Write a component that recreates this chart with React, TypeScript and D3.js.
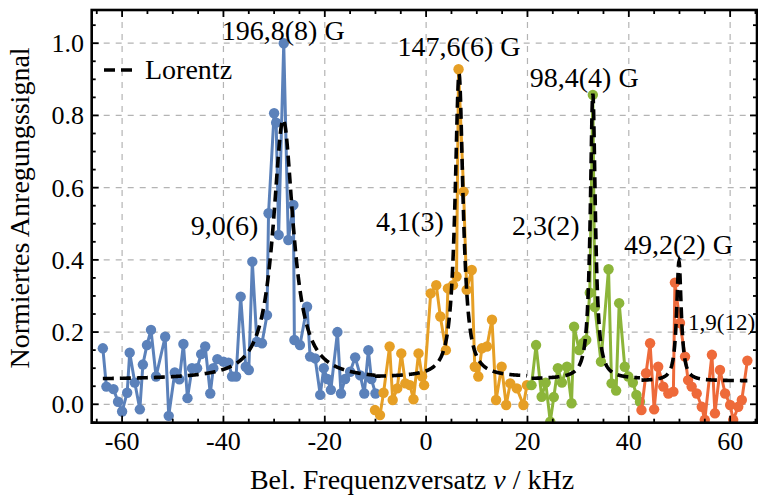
import React from "react";
import * as d3 from "d3";

// ---------- data ----------
const blueX = [-63.8, -63.1, -61.7, -60.8, -60.0, -59.0, -58.5, -57.5, -56.5, -55.9, -55.1, -54.3, -53.3, -51.5, -50.8, -49.6, -48.7, -47.9, -47.1, -46.2, -45.2, -44.4, -43.6, -42.6, -42.0, -41.2, -40.0, -39.0, -38.3, -37.5, -36.6, -35.6, -35.0, -34.3, -33.4, -32.4, -31.4, -31.1, -30.0, -29.6, -29.1, -28.1, -27.2, -26.2, -26.0, -24.9, -23.5, -22.9, -21.9, -20.9, -20.2, -19.5, -18.8, -17.5, -16.8, -16.0, -15.0, -14.0, -13.0, -12.2, -11.4, -10.8, -10.0];
const blueY = [0.155, 0.049, 0.042, 0.007, -0.02, 0.032, 0.143, 0.06, -0.014, 0.11, 0.164, 0.206, 0.077, 0.187, -0.032, 0.088, 0.069, 0.167, 0.017, 0.1, 0.1, 0.139, 0.16, 0.03, 0.1, 0.125, 0.118, 0.115, 0.077, 0.077, 0.298, 0.104, 0.095, 0.395, 0.173, 0.169, 0.247, 0.529, 0.806, 0.78, 0.469, 1.0, 0.455, 0.552, 0.178, 0.164, 0.27, 0.132, 0.127, 0.026, 0.1, 0.07, 0.04, 0.2, 0.03, 0.07, 0.09, 0.13, 0.08, 0.03, 0.15, 0.07, 0.03];

const orangeX = [-10.1, -9.1, -8.4, -7.2, -6.6, -5.7, -4.9, -4.1, -3.2, -2.5, -1.5, -0.8, -0.4, 0.9, 2.0, 2.8, 3.9, 4.3, 5.3, 6.0, 6.4, 7.4, 8.0, 9.0, 9.6, 10.3, 11.0, 12.0, 13.0, 13.8, 14.9, 15.8, 16.6, 17.9, 19.2, 19.9];
const orangeY = [-0.016, -0.03, 0.032, 0.16, 0.012, 0.044, 0.141, 0.058, 0.053, 0.014, 0.141, 0.077, 0.053, 0.307, 0.33, 0.243, 0.15, 0.321, 0.33, 0.354, 0.928, 0.589, 0.317, 0.372, 0.104, 0.077, 0.155, 0.16, 0.234, 0.012, 0.104, -0.002, 0.058, 0.044, -0.002, 0.053];

const greenX = [20.8, 21.7, 22.8, 23.6, 24.5, 25.2, 26.0, 26.8, 27.8, 28.7, 29.2, 30.2, 31.0, 31.6, 32.3, 32.9, 33.3, 34.5, 36.0, 36.6, 37.5, 38.1, 39.2, 39.9, 40.8, 41.5, 42.2];
const greenY = [0.053, 0.164, 0.021, 0.06, -0.048, 0.02, 0.1, 0.06, 0.104, 0.003, 0.215, 0.15, 0.17, 0.178, 0.309, 0.857, 0.269, 0.118, 0.374, 0.058, 0.038, 0.28, 0.104, 0.077, 0.06, 0.026, 0.007];

const redX = [42.5, 43.4, 44.2, 45.0, 45.8, 46.8, 47.8, 48.8, 49.1, 50.1, 51.1, 51.7, 52.4, 53.4, 54.4, 55.0, 56.4, 57.0, 58.0, 59.0, 60.0, 60.6, 61.6, 62.3, 63.4];
const redY = [-0.016, 0.086, 0.169, -0.014, 0.104, 0.049, 0.03, 0.035, 0.337, 0.225, 0.132, 0.067, 0.049, 0.03, -0.007, -0.043, 0.137, -0.025, 0.095, 0.03, -0.002, -0.043, -0.007, 0.012, 0.121];

// Lorentz fit parameters: centre, amplitude, half width, offset
const fitCenter = [-28.2, 6.5, 32.9, 49.9];
const fitAmp = [0.72, 0.84, 0.79, 0.33];
const fitHalfWidth = [2.4, 0.95, 0.6, 0.55];
const fitOffset = [0.068, 0.075, 0.07, 0.065];

const seriesColors = ["#5b81ba", "#e69f25", "#8cb53a", "#ee6a3a"];

const fieldLabels = ["196,8(8) G", "147,6(6) G", "98,4(4) G", "49,2(2) G"];
const widthLabels = ["9,0(6)", "4,1(3)", "2,3(2)", "1,9(12)"];

const xTicks = [-60, -40, -20, 0, 20, 40, 60];
const yTicks = [0.0, 0.2, 0.4, 0.6, 0.8, 1.0];

// ---------- layout ----------
const W = 758, H = 498;
const L = 91.7, R = 757, T = 10, B = 422.7;
const FONT = "Liberation Serif";

export default function App() {
  const x = d3.scaleLinear().domain([-66, 65.3]).range([L, R]);
  const y = d3.scaleLinear().domain([-0.051, 1.092]).range([B, T]);

  const series = [
    { xs: blueX, ys: blueY },
    { xs: orangeX, ys: orangeY },
    { xs: greenX, ys: greenY },
    { xs: redX, ys: redY },
  ];

  const line = d3.line<[number, number]>().x((d) => x(d[0])).y((d) => y(d[1]));

  const minorX = d3.range(-65, 66, 5).filter((v) => v % 20 !== 0);
  const minorY = d3.range(-0.05, 1.1, 0.05).filter((v) => Math.abs(Math.round(v * 100) % 20) !== 0).map((v) => +v.toFixed(2));

  const fieldPos: [number, number][] = [[-28.2, 1.01], [6.5, 0.965], [31.2, 0.88], [49.8, 0.415]];
  const widthPos: [number, number][] = [[-39.8, 0.47], [-3.2, 0.48], [23.6, 0.47], [58.3, 0.205]];

  const ts = (size: number): React.CSSProperties => ({ fontFamily: FONT, fontSize: size });

  return (
    <svg width={W} height={H} style={{ position: "absolute", left: 0, top: 0, background: "#fff" }}>
      <rect x={0} y={0} width={W} height={H} fill="#fff" />
      <defs>
        <clipPath id="plotclip">
          <rect x={L} y={T} width={R - L} height={B - T} />
        </clipPath>
      </defs>
      <g stroke="#b4b4b4" strokeWidth={1.2} strokeDasharray="6,6">
        {xTicks.map((t) => (
          <line key={"gx" + t} x1={x(t)} x2={x(t)} y1={T} y2={B} />
        ))}
        {yTicks.map((t) => (
          <line key={"gy" + t} x1={L} x2={R} y1={y(t)} y2={y(t)} />
        ))}
      </g>
      <g clipPath="url(#plotclip)">
        {series.map((s, i) => {
          const pts = s.xs.map((v, j) => [v, s.ys[j]] as [number, number]);
          return (
            <g key={"s" + i}>
              <path d={line(pts) || ""} fill="none" stroke={seriesColors[i]} strokeWidth={3} strokeLinejoin="round" />
              {pts.map((p, j) => (
                <circle key={j} cx={x(p[0])} cy={y(p[1])} r={5.2} fill={seriesColors[i]} />
              ))}
            </g>
          );
        })}
        {series.map((s, i) => {
          const x0 = d3.min(s.xs) as number;
          const x1 = d3.max(s.xs) as number;
          const g = fitHalfWidth[i];
          const pts = d3.range(x0, x1 + 0.001, 0.05).map((v) => [
            v,
            fitOffset[i] + (fitAmp[i] * g * g) / ((v - fitCenter[i]) ** 2 + g * g),
          ] as [number, number]);
          return (
            <path key={"f" + i} d={line(pts) || ""} fill="none" stroke="#000" strokeWidth={3.6} strokeDasharray="11,6" />
          );
        })}
      </g>
      {fieldLabels.map((t, i) => (
        <text key={"fl" + i} x={x(fieldPos[i][0])} y={y(fieldPos[i][1])} textAnchor="middle" style={ts(28)}>
          {t}
        </text>
      ))}
      {widthLabels.map((t, i) => (
        <text key={"wl" + i} x={x(widthPos[i][0])} y={y(widthPos[i][1])} textAnchor="middle" style={ts(i === 3 ? 23 : 28)}>
          {t}
        </text>
      ))}
      <line x1={104} x2={138} y1={70} y2={70} stroke="#000" strokeWidth={3.6} strokeDasharray="11,6" />
      <text x={145} y={79} style={ts(28)}>Lorentz</text>
      <rect x={L} y={T} width={R - L} height={B - T} fill="none" stroke="#000" strokeWidth={2.6} />
      <g stroke="#000" strokeWidth={1.8}>
        {xTicks.map((t) => (
          <g key={"tx" + t}>
            <line x1={x(t)} x2={x(t)} y1={B} y2={B - 7} />
            <line x1={x(t)} x2={x(t)} y1={T} y2={T + 7} />
          </g>
        ))}
        {minorX.map((t) => (
          <g key={"mx" + t}>
            <line x1={x(t)} x2={x(t)} y1={B} y2={B - 4} />
            <line x1={x(t)} x2={x(t)} y1={T} y2={T + 4} />
          </g>
        ))}
        {yTicks.map((t) => (
          <g key={"ty" + t}>
            <line x1={L} x2={L + 7} y1={y(t)} y2={y(t)} />
            <line x1={R} x2={R - 7} y1={y(t)} y2={y(t)} />
          </g>
        ))}
        {minorY.map((t) => (
          <g key={"my" + t}>
            <line x1={L} x2={L + 4} y1={y(t)} y2={y(t)} />
            <line x1={R} x2={R - 4} y1={y(t)} y2={y(t)} />
          </g>
        ))}
      </g>
      {xTicks.map((t) => (
        <text key={"lx" + t} x={x(t)} y={450} textAnchor="middle" style={ts(26)}>
          {t < 0 ? "-" + Math.abs(t) : String(t)}
        </text>
      ))}
      {yTicks.map((t) => (
        <text key={"ly" + t} x={84} y={y(t) + 9} textAnchor="end" style={ts(26)}>
          {t.toFixed(1)}
        </text>
      ))}
      <text x={412} y={489} textAnchor="middle" style={ts(28)}>
        Bel. Frequenzversatz <tspan style={{ fontStyle: "italic" }}>ν</tspan> / kHz
      </text>
      <text transform={`translate(29,208) rotate(-90)`} textAnchor="middle" style={ts(28)}>
        Normiertes Anregungssignal
      </text>
    </svg>
  );
}
